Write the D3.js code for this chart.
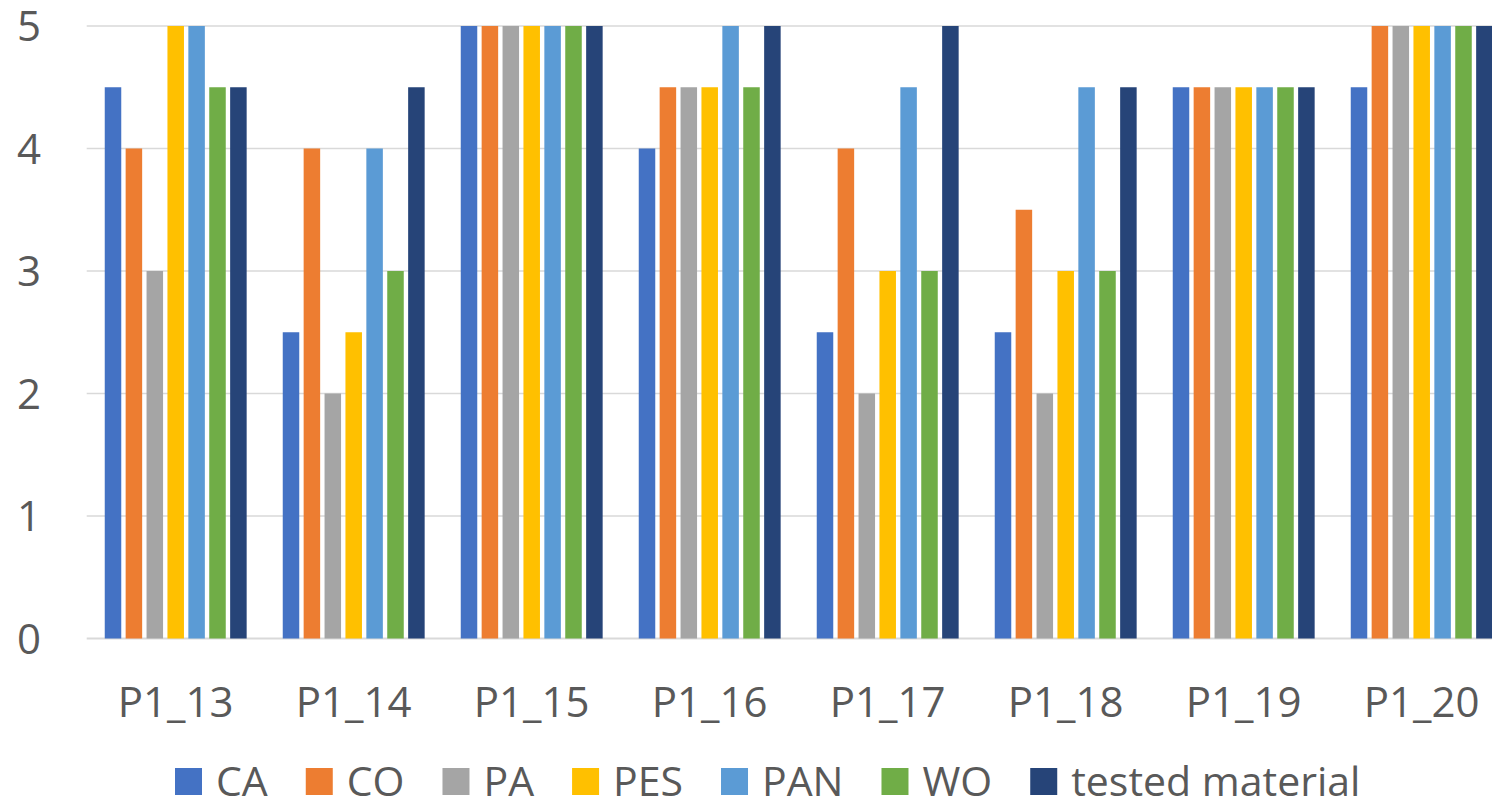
<!DOCTYPE html>
<html>
<head>
<meta charset="utf-8">
<script src="https://cdn.jsdelivr.net/npm/d3@7"></script>
<style>
  html, body { margin: 0; padding: 0; background: #fff; }
  svg { display: block; overflow: hidden; }
  text { font-family: "Open Sans", "Noto Sans", sans-serif; fill: #595959; }
</style>
</head>
<body>
<svg id="chart" width="1492" height="802"></svg>
<script>
const categories = ["P1_13", "P1_14", "P1_15", "P1_16", "P1_17", "P1_18", "P1_19", "P1_20"];
const seriesNames = ["CA", "CO", "PA", "PES", "PAN", "WO", "tested material"];
const seriesColors = ["#4472C4", "#ED7D31", "#A5A5A5", "#FFC000", "#5B9BD5", "#70AD47", "#264478"];
const CA  = [4.5, 2.5, 5, 4,   2.5, 2.5, 4.5, 4.5];
const CO  = [4,   4,   5, 4.5, 4,   3.5, 4.5, 5];
const PA  = [3,   2,   5, 4.5, 2,   2,   4.5, 5];
const PES = [5,   2.5, 5, 4.5, 3,   3,   4.5, 5];
const PAN = [5,   4,   5, 5,   4.5, 4.5, 4.5, 5];
const WO  = [4.5, 3,   5, 4.5, 3,   3,   4.5, 5];
const TESTED = [4.5, 4.5, 5, 5, 5, 4.5, 4.5, 5];
const yTicks = [0, 1, 2, 3, 4, 5];

const seriesValues = [CA, CO, PA, PES, PAN, WO, TESTED];

const svg = d3.select("#chart");
const plotLeft = 86.7, plotRight = 1510.7, plotTop = 26, plotBottom = 638.5;

const x0 = d3.scaleBand().domain(categories).range([plotLeft, plotRight]).padding(0);
const x1 = d3.scaleBand().domain(seriesNames)
  .range([15.85, x0.bandwidth() - 15.85])
  .paddingInner(0.21).paddingOuter(0.105);
const y = d3.scaleLinear().domain([0, 5]).range([plotBottom, plotTop]);

// gridlines
svg.append("g").selectAll("line").data(yTicks).join("line")
  .attr("x1", plotLeft).attr("x2", 1492)
  .attr("y1", d => y(d)).attr("y2", d => y(d))
  .attr("stroke", "#d9d9d9").attr("stroke-width", d => d === 0 ? 2 : 1.5);

// y tick labels
svg.append("g").selectAll("text").data(yTicks).join("text")
  .attr("x", 41).attr("y", d => y(d) + 15)
  .attr("text-anchor", "end")
  .attr("font-size", 42)
  .text(d => d);

// bars
const groups = svg.append("g").selectAll("g").data(categories).join("g")
  .attr("transform", d => `translate(${x0(d)},0)`);
groups.selectAll("rect")
  .data((c, ci) => seriesNames.map((s, si) => ({ s, si, v: seriesValues[si][ci] })))
  .join("rect")
  .attr("x", d => x1(d.s))
  .attr("width", x1.bandwidth())
  .attr("y", d => y(d.v))
  .attr("height", d => y(0) - y(d.v))
  .attr("fill", d => seriesColors[d.si]);

// x labels
svg.append("g").selectAll("text").data(categories).join("text")
  .attr("x", d => x0(d) + x0.bandwidth() / 2)
  .attr("y", 717)
  .attr("text-anchor", "middle")
  .attr("font-size", 42)
  .text(d => d);

// legend
const legend = svg.append("g");
let lx = 175;
seriesNames.forEach((name, i) => {
  legend.append("rect").attr("x", lx).attr("y", 768).attr("width", 27).attr("height", 27)
    .attr("fill", seriesColors[i]);
  const t = legend.append("text").attr("x", lx + 41).attr("y", 796)
    .attr("font-size", 41).text(name);
  const w = t.node().getComputedTextLength();
  lx = lx + 41 + w + 38;
});
</script>
</body>
</html>
